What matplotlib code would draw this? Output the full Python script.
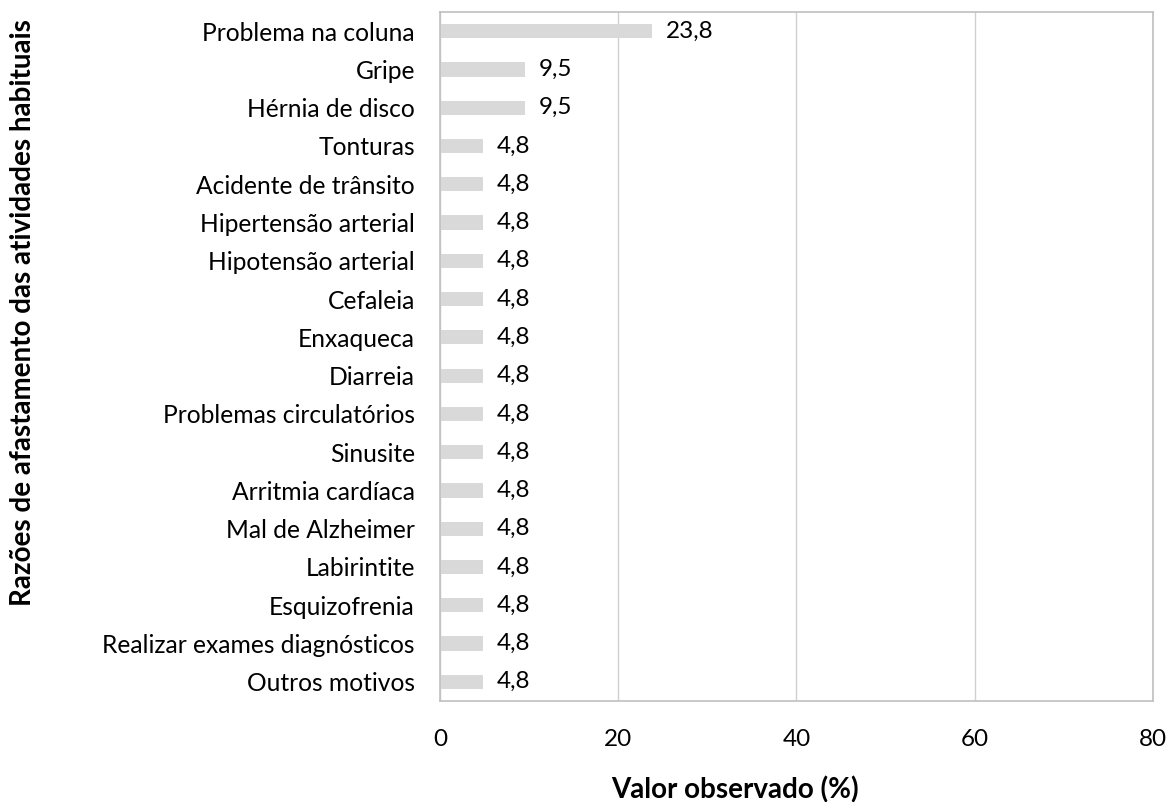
import matplotlib.pyplot as plt

categorias = [
    "Problema na coluna", "Gripe", "Hérnia de disco", "Tonturas",
    "Acidente de trânsito", "Hipertensão arterial", "Hipotensão arterial",
    "Cefaleia", "Enxaqueca", "Diarreia", "Problemas circulatórios",
    "Sinusite", "Arritmia cardíaca", "Mal de Alzheimer", "Labirintite",
    "Esquizofrenia", "Realizar exames diagnósticos", "Outros motivos",
]
valores = [23.8, 9.5, 9.5, 4.8, 4.8, 4.8, 4.8, 4.8, 4.8, 4.8,
           4.8, 4.8, 4.8, 4.8, 4.8, 4.8, 4.8, 4.8]
xticks = [0, 20, 40, 60, 80]

plt.rcParams['font.family'] = ['Lato', 'DejaVu Sans']

fig = plt.figure(figsize=(11.7, 8.02), dpi=100)
ax = fig.add_axes([0.376, 0.126, 0.6095, 0.859])

pos = list(range(len(categorias)))
ax.barh(pos, valores, height=0.37, color="#D9D9D9", zorder=2)
for p, v in zip(pos, valores):
    ax.text(v + 1.6, p, f"{v:.1f}".replace(".", ","), va="center", ha="left",
            fontsize=17.5, color="black")

ax.set_ylim(len(categorias) - 0.5, -0.5)
ax.set_yticks(pos)
ax.set_yticklabels(categorias, fontsize=17.7)
ax.set_xlim(0, 80)
ax.set_xticks(xticks)
ax.set_xticklabels([str(t) for t in xticks], fontsize=17.5)
ax.tick_params(axis="both", length=0)
ax.tick_params(axis="x", pad=20)
ax.tick_params(axis="y", pad=18)
ax.grid(axis="x", color="#D0D0D0", linewidth=1, zorder=0)
for s in ax.spines.values():
    s.set_color("#C0C0C0")
    s.set_linewidth(1.2)

# rotulo do eixo x fica um pouco a esquerda do centro, como no original
ax.set_xlabel("Valor observado (%)", fontsize=20, fontweight="bold",
              labelpad=19, x=0.414)
fig.text(0.02, 0.61, "Razões de afastamento das atividades habituais",
         rotation=90, va="center", ha="center", fontsize=20, fontweight="bold")

fig.savefig("out.png", dpi=100)
